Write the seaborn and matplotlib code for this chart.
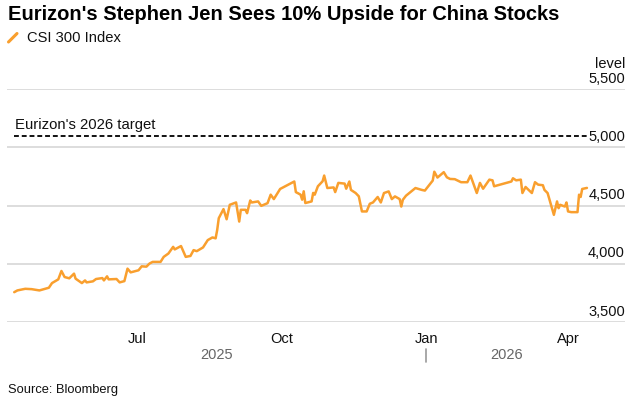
import matplotlib
matplotlib.use("Agg")
import matplotlib.pyplot as plt
from matplotlib.lines import Line2D
from matplotlib.ticker import FixedLocator, NullFormatter
import matplotlib.dates as mdates
import seaborn as sns
import pandas as pd

# ---------------- data ----------------
title = "Eurizon's Stephen Jen Sees 10% Upside for China Stocks"
series_name = "CSI 300 Index"
source_text = "Source: Bloomberg"
target_label = "Eurizon's 2026 target"
target_value = 5100
unit_label = "level"

dates = [
    "2025-04-14", "2025-04-16", "2025-04-21", "2025-04-25", "2025-04-30",
    "2025-05-06", "2025-05-08", "2025-05-12", "2025-05-14", "2025-05-16",
    "2025-05-19", "2025-05-22", "2025-05-23", "2025-05-27", "2025-05-29",
    "2025-05-30", "2025-06-03", "2025-06-05", "2025-06-09", "2025-06-10",
    "2025-06-12", "2025-06-13", "2025-06-18", "2025-06-20", "2025-06-23",
    "2025-06-25", "2025-06-27", "2025-07-02", "2025-07-04", "2025-07-07",
    "2025-07-09", "2025-07-11", "2025-07-16", "2025-07-18", "2025-07-21",
    "2025-07-24", "2025-07-25", "2025-07-29", "2025-08-01", "2025-08-04",
    "2025-08-06", "2025-08-08", "2025-08-12", "2025-08-15", "2025-08-18",
    "2025-08-20", "2025-08-21", "2025-08-22", "2025-08-25", "2025-08-27",
    "2025-08-29", "2025-09-02", "2025-09-04", "2025-09-05", "2025-09-08",
    "2025-09-09", "2025-09-11", "2025-09-12", "2025-09-16", "2025-09-18",
    "2025-09-22", "2025-09-24", "2025-09-26", "2025-09-30", "2025-10-09",
    "2025-10-10", "2025-10-13", "2025-10-14", "2025-10-15", "2025-10-16",
    "2025-10-20", "2025-10-21", "2025-10-22", "2025-10-24", "2025-10-27",
    "2025-10-28", "2025-10-30", "2025-11-03", "2025-11-04", "2025-11-06",
    "2025-11-10", "2025-11-11", "2025-11-13", "2025-11-14", "2025-11-17",
    "2025-11-19", "2025-11-21", "2025-11-24", "2025-11-26", "2025-11-28",
    "2025-12-01", "2025-12-03", "2025-12-05", "2025-12-08", "2025-12-10",
    "2025-12-12", "2025-12-15", "2025-12-16", "2025-12-17", "2025-12-19",
    "2025-12-25", "2025-12-29", "2025-12-31", "2026-01-05", "2026-01-06",
    "2026-01-08", "2026-01-12", "2026-01-14", "2026-01-16", "2026-01-19",
    "2026-01-23", "2026-01-27", "2026-01-29", "2026-02-02", "2026-02-04",
    "2026-02-06", "2026-02-10", "2026-02-12", "2026-02-13", "2026-02-24",
    "2026-02-25", "2026-02-27", "2026-03-02", "2026-03-03", "2026-03-05",
    "2026-03-09", "2026-03-11", "2026-03-13", "2026-03-16", "2026-03-17",
    "2026-03-19", "2026-03-23", "2026-03-25", "2026-03-26", "2026-03-27",
    "2026-03-30", "2026-03-31", "2026-04-01", "2026-04-03", "2026-04-07",
    "2026-04-08", "2026-04-09", "2026-04-10", "2026-04-13",
]
values = [
    3756, 3771, 3785, 3782, 3771,
    3794, 3834, 3866, 3938, 3886,
    3875, 3915, 3872, 3834, 3857,
    3840, 3849, 3869, 3877, 3857,
    3892, 3866, 3869, 3840, 3851,
    3958, 3926, 3944, 3978, 3975,
    4002, 4016, 4016, 4059, 4088,
    4145, 4123, 4152, 4059, 4067,
    4117, 4108, 4140, 4203, 4226,
    4218, 4290, 4391, 4469, 4382,
    4506, 4526, 4362, 4463, 4463,
    4434, 4543, 4526, 4535, 4497,
    4520, 4593, 4555, 4642, 4706,
    4615, 4593, 4550, 4622, 4521,
    4535, 4608, 4593, 4665, 4708,
    4757, 4650, 4655, 4615, 4694,
    4688, 4644, 4706, 4634, 4607,
    4579, 4449, 4449, 4515, 4526,
    4573, 4526, 4607, 4621, 4555,
    4578, 4555, 4491, 4549, 4584,
    4650, 4634, 4628, 4714, 4790,
    4740, 4786, 4742, 4728, 4726,
    4700, 4700, 4757, 4607, 4694,
    4644, 4722, 4716, 4665, 4706,
    4734, 4716, 4722, 4607, 4659,
    4607, 4700, 4679, 4674, 4634,
    4607, 4420, 4535, 4477, 4506,
    4491, 4526, 4449, 4443, 4443,
    4593, 4573, 4642, 4651,
]

y_ticks = [3500, 4000, 4500, 5000, 5500]
y_tick_labels = ["3,500", "4,000", "4,500", "5,000", "5,500"]
x_major_ticks = ["2025-07-01", "2025-10-01", "2026-01-01", "2026-04-01"]
x_major_labels = ["Jul", "Oct", "Jan", "Apr"]
x_minor_ticks = ["2025-05-01", "2025-06-01", "2025-08-01", "2025-09-01",
                 "2025-11-01", "2025-12-01", "2026-02-01", "2026-03-01"]
year_labels = ["2025", "2026"]
year_boundary = "2026-01-01"

# ---------------- style ----------------
ORANGE = "#F99F2E"
TEXT = "#111111"
GRID = "#DADADA"

sns.set_style("white")
plt.rcParams['font.family'] = ['Liberation Sans', 'DejaVu Sans']

W, H = 639, 399
fig = plt.figure(figsize=(W / 100, H / 100), dpi=100)
ax = fig.add_axes([7 / W, (H - 322) / H, 618 / W, 233 / H])

df = pd.DataFrame({"date": pd.to_datetime(dates), "value": values})
sns.lineplot(data=df, x="date", y="value", ax=ax, color=ORANGE,
             linewidth=1.8, legend=False)

ref = pd.Timestamp("2025-07-01")
ax.set_xlim(ref - pd.Timedelta(days=82.6), ref + pd.Timedelta(days=310.2))
ax.set_ylim(y_ticks[0], y_ticks[-1])

for s in ax.spines.values():
    s.set_visible(False)

ax.set_yticks(y_ticks)
ax.yaxis.grid(True, color=GRID, linewidth=1.3)
ax.set_axisbelow(True)
ax.tick_params(axis="y", left=False, labelleft=False, length=0)
ax.set_xlabel("")
ax.set_ylabel("")

ax.xaxis.set_major_locator(FixedLocator(mdates.date2num(pd.to_datetime(x_major_ticks))))
ax.set_xticklabels(x_major_labels)
ax.xaxis.set_minor_locator(FixedLocator(mdates.date2num(pd.to_datetime(x_minor_ticks))))
ax.xaxis.set_minor_formatter(NullFormatter())
ax.tick_params(axis="x", which="major", length=5, width=1.1, color="#333333",
               labelsize=10.5, labelcolor=TEXT, pad=2.5)
ax.tick_params(axis="x", which="minor", length=3, width=1.0, color="#CCCCCC")

ytrans = ax.get_yaxis_transform()
for v, lab in zip(y_ticks, y_tick_labels):
    ax.annotate(lab, xy=(1, v), xycoords=ytrans, xytext=(0, 7.4),
                textcoords="offset points", ha="right", va="center",
                fontsize=10.5, color=TEXT)
ax.annotate(unit_label, xy=(1, y_ticks[-1]), xycoords=ytrans, xytext=(0, 18),
            textcoords="offset points", ha="right", va="center",
            fontsize=10.5, color=TEXT)

# target line
ax.hlines(target_value, df["date"].min(), df["date"].max(), colors=TEXT,
          linestyles=(0, (2.5, 1.5)), linewidth=1.4)
ax.annotate(target_label, xy=(df["date"].min(), target_value), xycoords="data",
            xytext=(0.5, 7.6), textcoords="offset points", ha="left",
            va="center", fontsize=10.7, color=TEXT)

# year labels
xtrans = ax.get_xaxis_transform()
x0, x1 = ax.get_xlim()
yb = mdates.date2num(pd.Timestamp(year_boundary))
xe = mdates.date2num(df["date"].max())
for xc, lab in zip([(x0 + yb) / 2, (yb + xe) / 2], year_labels):
    ax.annotate(lab, xy=(xc, 0), xycoords=xtrans, xytext=(0, -23.6),
                textcoords="offset points", ha="center", va="center",
                fontsize=10.5, color="#666666")
ax.plot([yb, yb], [-27 / 233, -40 / 233], transform=xtrans, color="#999999",
        linewidth=1.2, clip_on=False)

# title, legend, source
fig.text(8 / W, 1 - 14 / H, title, fontsize=14.5, fontweight="bold",
         color="#000000", va="center", ha="left")
fig.add_artist(Line2D([8.5 / W, 17 / W], [1 - 42 / H, 1 - 33.5 / H],
                      color=ORANGE, linewidth=2.2, solid_capstyle="round"))
fig.text(27 / W, 1 - 37.8 / H, series_name, fontsize=10.6, color=TEXT,
         va="center", ha="left")
fig.text(8 / W, 1 - 390 / H, source_text, fontsize=9.3, color=TEXT,
         va="center", ha="left")

fig.savefig("out.png", dpi=100)
